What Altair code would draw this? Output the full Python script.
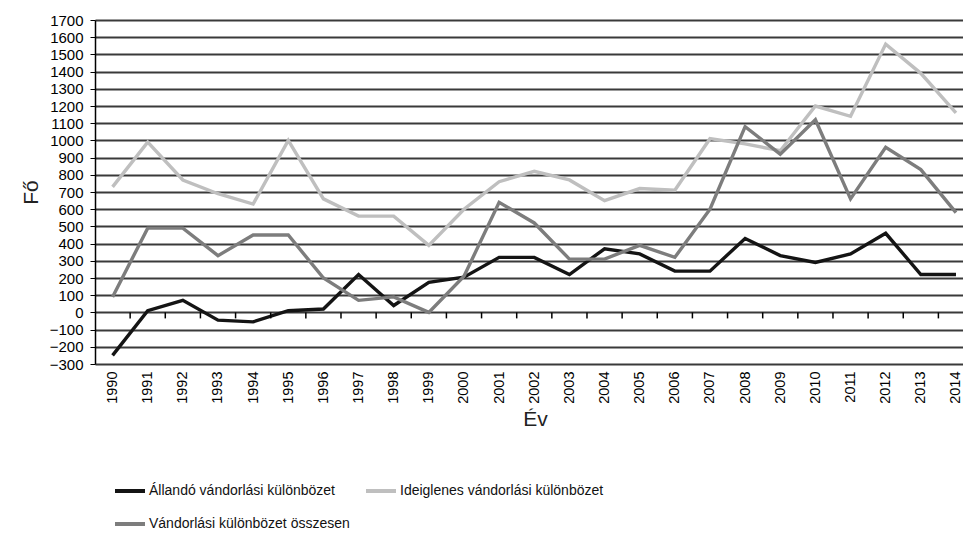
import altair as alt
import pandas as pd

years = list(range(1990, 2015))
allando = [-250, 10, 70, -45, -55, 10, 20, 220, 40, 175, 205, 320, 320, 220, 370,
           340, 240, 240, 430, 330, 290, 340, 460, 220, 220]
ideiglenes = [730, 990, 770, 690, 630, 1000, 660, 560, 560, 390, 600, 760, 820, 770, 650,
              720, 710, 1010, 980, 940, 1200, 1140, 1560, 1390, 1160]
osszesen = [90, 490, 490, 330, 450, 450, 200, 70, 90, 0, 210, 640, 520, 310, 310,
            390, 320, 600, 1080, 920, 1120, 660, 960, 830, 580]

series_names = ["Állandó vándorlási különbözet",
                "Ideiglenes vándorlási különbözet",
                "Vándorlási különbözet összesen"]
series_colors = ["#141414", "#bfbfbf", "#7d7d7d"]
y_ticks = list(range(-300, 1701, 100))

rows = []
for name, vals in zip(series_names, [allando, ideiglenes, osszesen]):
    for yr, v in zip(years, vals):
        rows.append({"Év": yr, "Fő": v, "Sorozat": name})
df = pd.DataFrame(rows)

# category boundaries on the zero line (where the category-axis ticks sit)
bounds = pd.DataFrame({"b": [y + 0.5 for y in years[:-1]]})

FONT = "Liberation Sans"

xscale = alt.Scale(domain=[1989.5, 2014.2], nice=False, zero=False)
yscale = alt.Scale(domain=[-300, 1700], nice=False, zero=False)

x_axis = alt.Axis(values=years, format="d", labelAngle=-90, ticks=False,
                  domain=False, grid=False, labelFont=FONT, labelFontSize=14.5,
                  labelColor="#000", labelPadding=7, labelOverlap=False,
                  labelFlush=False, labelBound=False, title="Év",
                  titleFont=FONT, titleFontSize=21, titleFontWeight="normal",
                  titleColor="#222", titlePadding=5, titleX=440)
y_axis = alt.Axis(values=y_ticks, format="d", grid=True, gridColor="#3a3a3a",
                  gridWidth=2.1, domainColor="#000", domainWidth=1.5,
                  tickColor="#000", tickSize=5, labelFont=FONT, labelFontSize=15,
                  labelColor="#000", labelPadding=7, labelOverlap=False,
                  labelFlush=False, labelBound=False, title="Fő",
                  titleFont=FONT, titleFontSize=21, titleFontWeight="normal",
                  titleColor="#222", titlePadding=8)

lines = alt.Chart(df).mark_line(strokeWidth=3.4, strokeJoin="miter").encode(
    x=alt.X("Év:Q", scale=xscale, axis=x_axis),
    y=alt.Y("Fő:Q", scale=yscale, axis=y_axis),
    color=alt.Color("Sorozat:N",
                    scale=alt.Scale(domain=series_names, range=series_colors),
                    legend=alt.Legend(orient="none", legendX=18, legendY=454,
                                      columns=2, direction="horizontal", title=None,
                                      symbolType="stroke", symbolSize=900,
                                      symbolStrokeWidth=4, labelFont=FONT,
                                      labelFontSize=14, labelColor="#111", labelLimit=500,
                                      labelOffset=2, columnPadding=8, rowPadding=8)),
    order=alt.Order("Év:Q"),
)

ticks = alt.Chart(bounds).mark_rule(color="#000", strokeWidth=1.5, y2Offset=6).encode(
    x=alt.X("b:Q", scale=xscale, axis=None),
    y=alt.datum(0, scale=yscale, axis=None),
    y2=alt.datum(0),
)

chart = alt.layer(lines, ticks).resolve_axis(x="independent", y="independent").properties(
    width=868, height=344,
    autosize=alt.AutoSizeParams(type="none"),
    padding={"left": 87, "top": 12, "right": 0, "bottom": 167},
).configure_view(strokeWidth=0).configure(background="white")

chart.save("out.html", embed_options={"renderer": "svg", "actions": False})
